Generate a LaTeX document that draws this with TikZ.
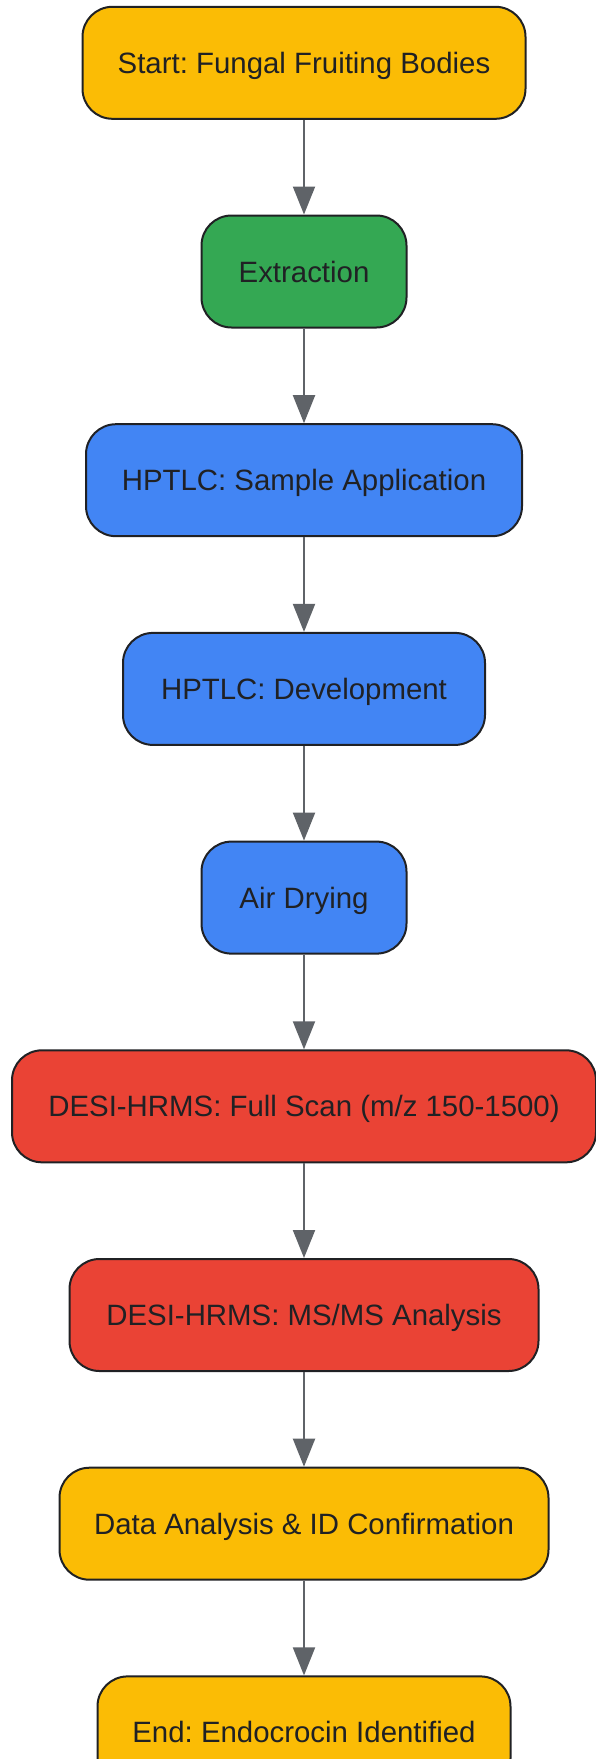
\documentclass[tikz,border=0pt]{standalone}
\usepackage{fontspec}
\setmainfont{Liberation Sans}
\usetikzlibrary{arrows.meta}
\definecolor{gyellow}{HTML}{FBBC05}
\definecolor{ggreen}{HTML}{34A853}
\definecolor{gblue}{HTML}{4285F4}
\definecolor{gred}{HTML}{EA4335}
\definecolor{gline}{HTML}{5F6368}
\definecolor{gtext}{HTML}{202124}
\newcommand{\bx}{\fontsize{29.4}{35}\selectfont}
\frenchspacing

\begin{document}
\begin{tikzpicture}[x=1pt,y=1pt,
   box/.style={draw=gtext, line width=2pt, rounded corners=30pt,
               minimum height=112pt, text=gtext, font=\bx, inner sep=0pt,
               text height=21pt, text depth=0pt},
   flow/.style={draw=gline, line width=2pt,
               -{Triangle[length=28pt,width=22pt]}}]
   \useasboundingbox (0,0) rectangle (596,-1759);
   \node[box, fill=gyellow, minimum width=443pt] (start)   at (304,  -62.8) {Start: Fungal Fruiting Bodies};
   \node[box, fill=ggreen,  minimum width=205pt] (extract) at (304, -271.5) {Extraction};
   \node[box, fill=gblue,   minimum width=436pt] (apply)   at (304, -480.2) {HPTLC: Sample Application};
   \node[box, fill=gblue,   minimum width=362pt] (develop) at (304, -688.9) {HPTLC: Development};
   \node[box, fill=gblue,   minimum width=205pt] (dry)     at (304, -897.6) {Air Drying};
   \node[box, fill=gred,    minimum width=584pt] (scan)    at (304,-1106.3) {DESI-HRMS: Full Scan (m/z 150-1500)};
   \node[box, fill=gred,    minimum width=469pt] (msms)    at (304,-1315.0) {DESI-HRMS: MS/MS Analysis};
   \node[box, fill=gyellow, minimum width=489pt] (data)    at (304,-1523.7) {Data Analysis \& ID Confirmation};
   \node[box, fill=gyellow, minimum width=413pt] (stop)    at (304,-1732.4) {End: Endocrocin Identified};
   \draw[flow] (start)   -- (extract);
   \draw[flow] (extract) -- (apply);
   \draw[flow] (apply)   -- (develop);
   \draw[flow] (develop) -- (dry);
   \draw[flow] (dry)     -- (scan);
   \draw[flow] (scan)    -- (msms);
   \draw[flow] (msms)    -- (data);
   \draw[flow] (data)    -- (stop);
\end{tikzpicture}
\end{document}
